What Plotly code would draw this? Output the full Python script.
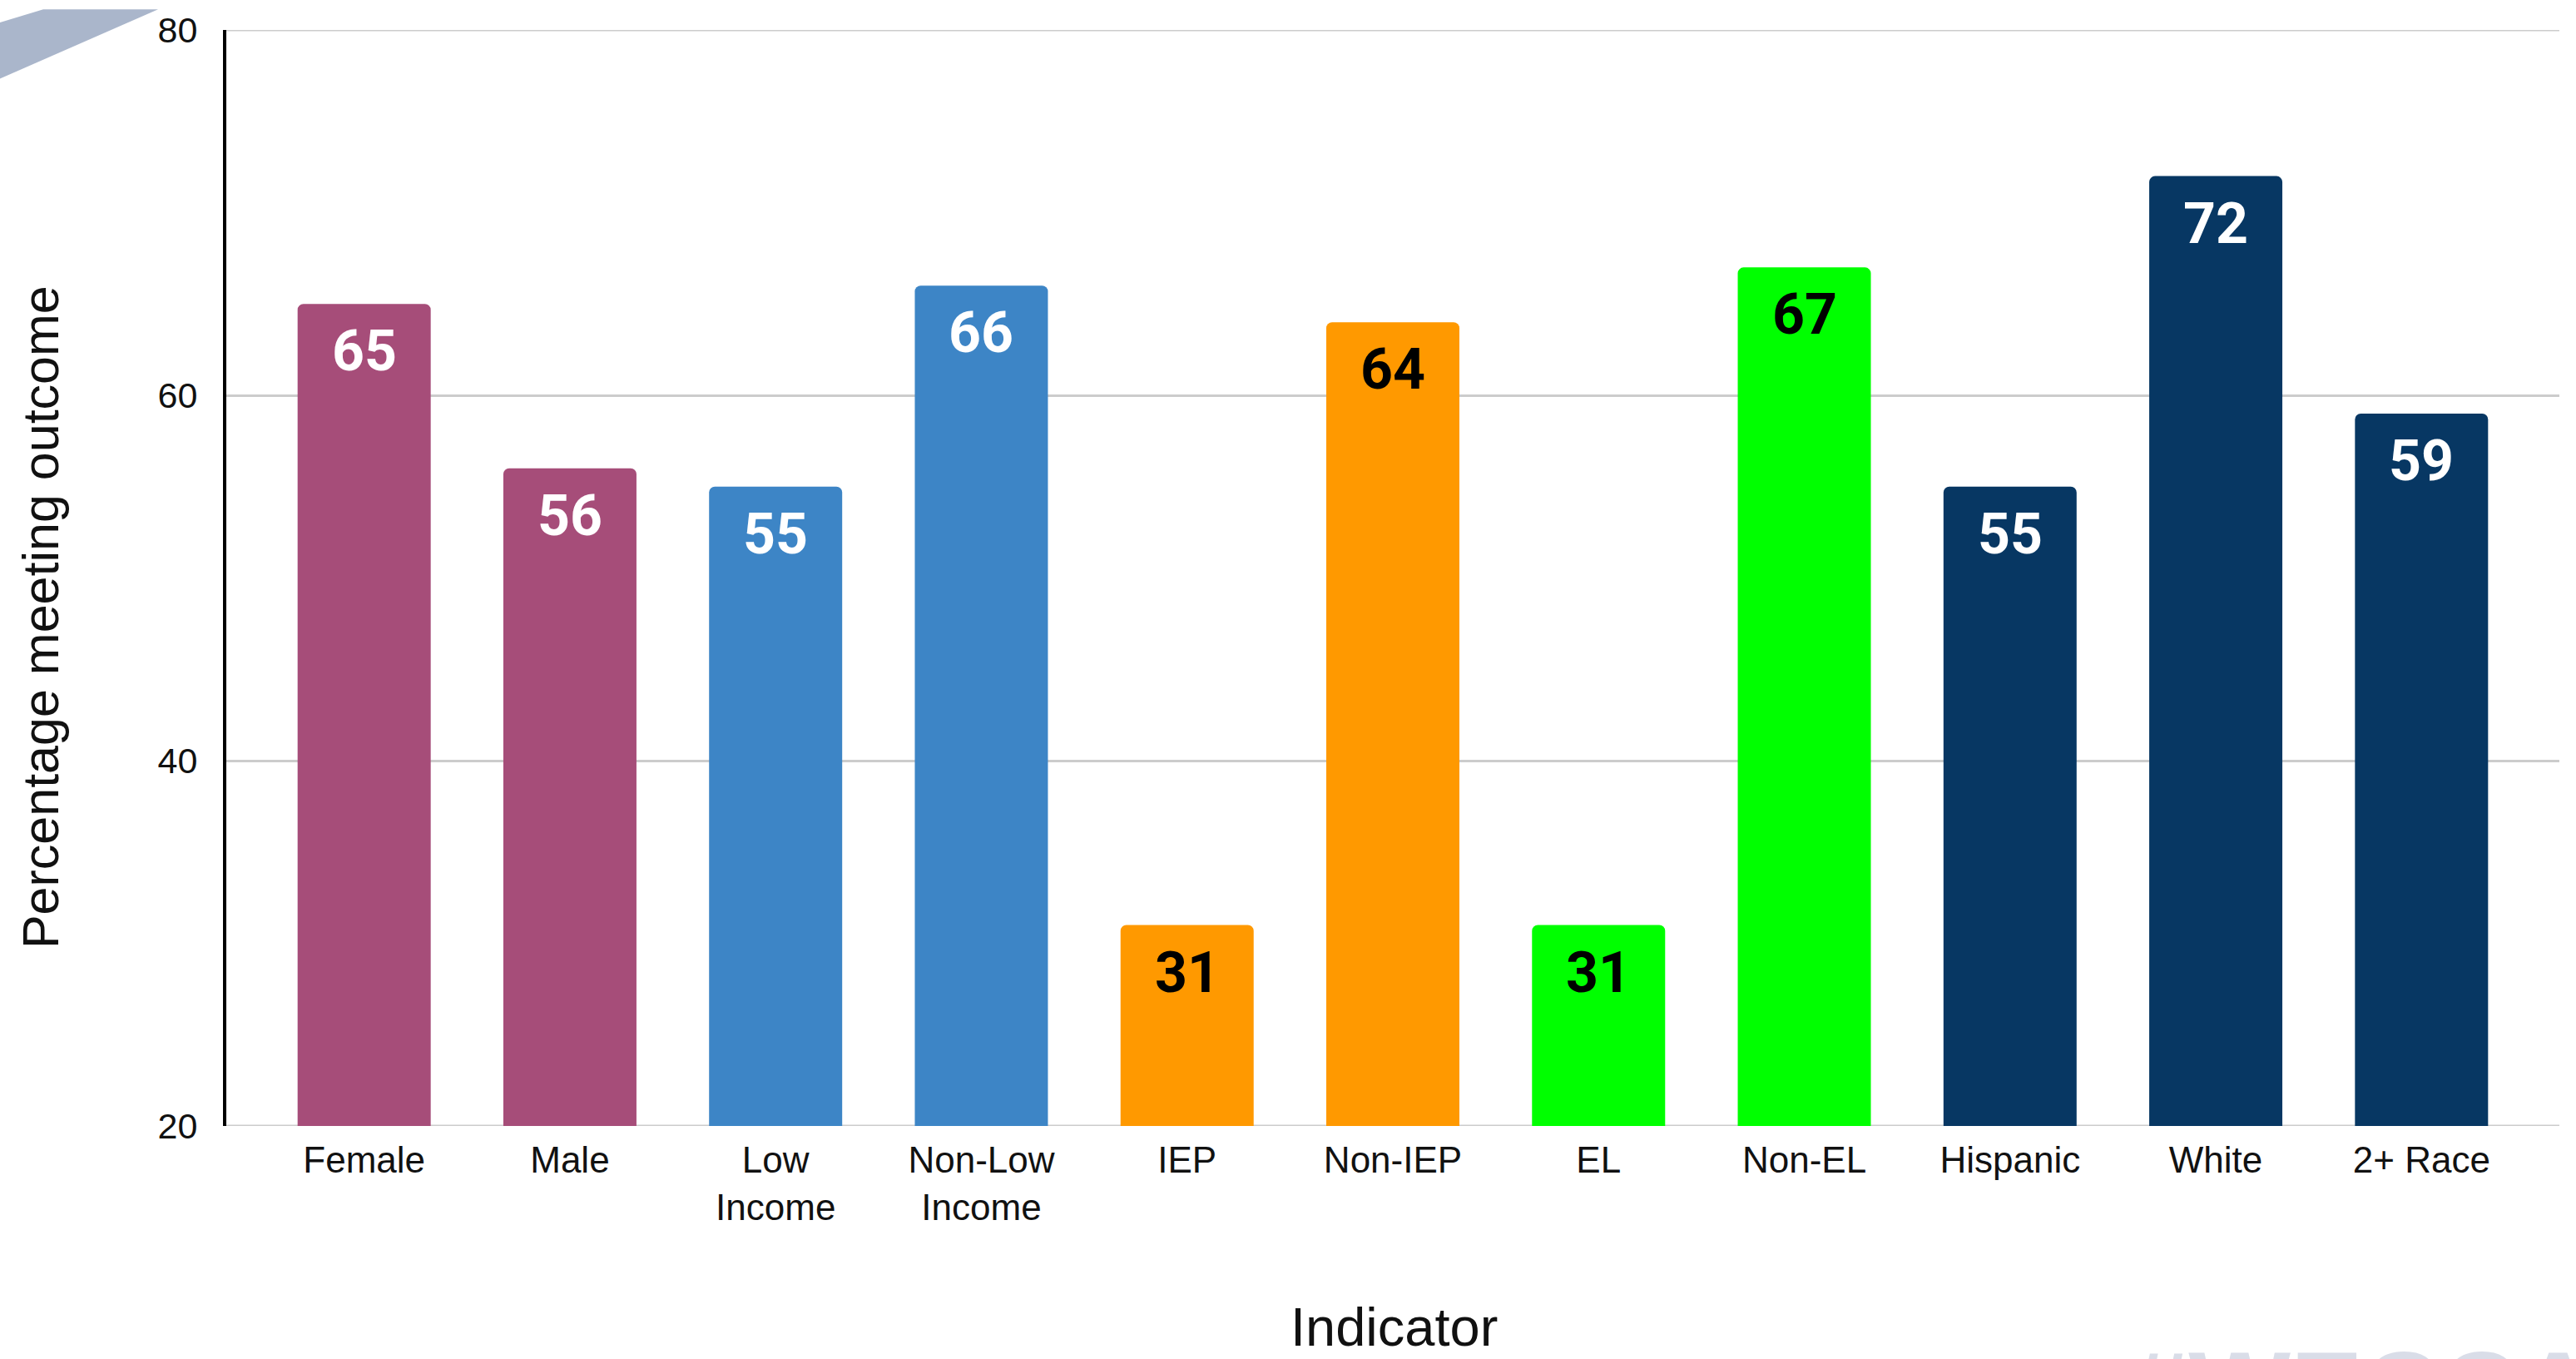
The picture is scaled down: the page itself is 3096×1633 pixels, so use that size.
import plotly.graph_objects as go

# Share of students meeting the outcome, by indicator group
categories = ["Female", "Male", "Low<br>Income", "Non-Low<br>Income", "IEP", "Non-IEP",
              "EL", "Non-EL", "Hispanic", "White", "2+ Race"]
values = [65, 56, 55, 66, 31, 64, 31, 67, 55, 72, 59]
bar_colors = ["#A64D79", "#A64D79", "#3D85C6", "#3D85C6", "#FF9900", "#FF9900",
              "#00FF00", "#00FF00", "#073763", "#073763", "#073763"]
label_colors = ["white", "white", "white", "white", "black", "black",
                "black", "black", "white", "white", "white"]
y_ticks = [20, 40, 60, 80]

W, H = 3096, 1633
ML, MR, MT, MB = 272, 20, 25, 280
PW, PH = W - ML - MR, H - MT - MB


def px_x(px):
    return (px - ML) / PW


def px_y(py):
    return (H - MB - py) / PH


fig = go.Figure()
fig.add_trace(go.Bar(
    x=categories,
    y=values,
    marker=dict(color=bar_colors, cornerradius=7, line=dict(width=0)),
    width=0.647,
    hoverinfo="skip",
))

# value labels inside the top of each bar
for cat, val, col in zip(categories, values, label_colors):
    fig.add_annotation(
        x=cat, y=val, xref="x", yref="y",
        text=f"<b>{val}</b>", showarrow=False,
        yanchor="middle", yshift=-57,
        font=dict(family="Roboto", size=68, color=col),
    )

# grey rules at the bottom and top of the value range
for yv in (y_ticks[0], y_ticks[-1]):
    fig.add_shape(type="line", xref="paper", yref="y", x0=0, x1=1, y0=yv, y1=yv,
                  line=dict(color="#CCCCCC", width=3), layer="below")

# axis titles
fig.add_annotation(
    x=px_x(49), y=px_y(737), xref="paper", yref="paper",
    text="Percentage meeting outcome", textangle=-90, showarrow=False,
    xanchor="center", yanchor="middle",
    font=dict(family="Liberation Sans, Arial", size=61, color="#111111"),
)
fig.add_annotation(
    x=px_x(1676), y=px_y(1597), xref="paper", yref="paper",
    text="Indicator", showarrow=False,
    xanchor="center", yanchor="middle",
    font=dict(family="Liberation Sans, Arial", size=65, color="#111111"),
)

# faint hashtag mark at the bottom right corner
fig.add_annotation(
    x=px_x(2556), y=px_y(1597), xref="paper", yref="paper",
    text="<b>#WECCA</b>", showarrow=False,
    xanchor="left", yanchor="top",
    font=dict(family="Liberation Sans, Arial", size=130, color="#D9DDE8"),
)

# grey swoosh in the top left corner
pts = [(0, 16), (0, 84), (190, 0), (52, 0)]
path = "M " + " L ".join(f"{px_x(a):.5f},{px_y(b):.5f}" for a, b in pts) + " Z"
fig.add_shape(type="path", path=path, xref="paper", yref="paper",
              fillcolor="#AAB6CB", line=dict(width=0), layer="above")

fig.update_layout(
    width=W, height=H,
    margin=dict(l=ML, r=MR, t=MT, b=MB),
    paper_bgcolor="white", plot_bgcolor="white",
    showlegend=False,
    font=dict(family="Liberation Sans, Arial", color="#111111"),
    xaxis=dict(
        type="category",
        range=[-0.67, 10.67],
        showgrid=False, showline=False, zeroline=False,
        ticks="", tickfont=dict(size=44, color="#111111"),
        ticklabelstandoff=11,
    ),
    yaxis=dict(
        range=[20, 80],
        tickvals=y_ticks,
        showgrid=True, gridcolor="#CCCCCC", gridwidth=3,
        zeroline=False,
        showline=True, linecolor="#000000", linewidth=4,
        ticks="", tickfont=dict(size=43, color="#111111"),
        ticklabelstandoff=22,
    ),
)

fig.write_html("out.html")
